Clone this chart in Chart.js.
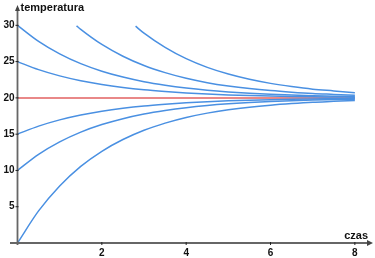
<!DOCTYPE html>
<html>
<head>
<meta charset="utf-8">
<script src="https://cdn.jsdelivr.net/npm/chart.js@4/dist/chart.umd.min.js"></script>
<style>
  html, body { margin: 0; padding: 0; background: #fff; }
  #wrap { width: 375px; height: 258px; }
</style>
</head>
<body>
<div id="wrap"><canvas id="myChart" width="375" height="258"></canvas></div>
<script>
// time samples (x axis)
const times = [0, 0.5, 1, 1.5, 2, 2.5, 3, 3.5, 4, 4.5, 5, 5.5, 6, 6.5, 7, 7.5, 8];

// temperature curves, one per starting temperature
const from0  = [0, 4.42, 7.86, 10.56, 12.64, 14.26, 15.54, 16.52, 17.30, 17.90, 18.36, 18.72, 19.00, 19.22, 19.40, 19.52, 19.64];
const from10 = [10, 12.21, 13.93, 15.28, 16.32, 17.13, 17.77, 18.26, 18.65, 18.95, 19.18, 19.36, 19.50, 19.61, 19.70, 19.76, 19.82];
const from15 = [15, 16.11, 16.97, 17.64, 18.16, 18.57, 18.89, 19.13, 19.33, 19.48, 19.59, 19.68, 19.75, 19.81, 19.85, 19.88, 19.91];
const from25 = [25, 23.89, 23.03, 22.36, 21.84, 21.43, 21.11, 20.87, 20.67, 20.52, 20.41, 20.32, 20.25, 20.19, 20.15, 20.12, 20.09];
const from30 = [30, 27.79, 26.07, 24.72, 23.68, 22.87, 22.23, 21.74, 21.35, 21.05, 20.82, 20.64, 20.50, 20.39, 20.30, 20.24, 20.18];

// curves that come in from above the top of the plot
const times40 = [1.4, 1.5, 2, 2.5, 3, 3.5, 4, 4.5, 5, 5.5, 6, 6.5, 7, 7.5, 8];
const from40  = [29.93, 29.44, 27.36, 25.74, 24.46, 23.48, 22.70, 22.10, 21.64, 21.28, 21.00, 20.78, 20.60, 20.48, 20.36];
const times60 = [2.8, 3, 3.5, 4, 4.5, 5, 5.5, 6, 6.5, 7, 7.5, 8];
const from60  = [29.88, 28.92, 26.96, 25.40, 24.20, 23.28, 22.56, 22.00, 21.56, 21.20, 20.96, 20.72];

// ambient temperature
const ambientTimes = [0, 8];
const ambient = [20, 20];

// tick labels
const xTicks = [2, 4, 6, 8];
const yTicks = [5, 10, 15, 20, 25, 30];

const blue = 'rgb(74, 144, 226)';
const red = 'rgb(226, 96, 96)';

function pts(xs, ys) {
    return xs.map((x, i) => ({ x: x, y: ys[i] }));
}

function curve(xs, ys, color) {
    return {
        data: pts(xs, ys),
        borderColor: color,
        borderWidth: 1.5,
        pointRadius: 0,
        fill: false,
        cubicInterpolationMode: 'monotone'
    };
}

// draw axes with arrows, tick marks and labels
const axesPlugin = {
    id: 'axes',
    afterDatasetsDraw(chart) {
        const ctx = chart.ctx;
        const xs = chart.scales.x, ys = chart.scales.y;
        const x0 = xs.getPixelForValue(0), y0 = ys.getPixelForValue(0);
        const right = chart.chartArea.right, top = chart.chartArea.top;
        ctx.save();
        ctx.strokeStyle = '#666';
        ctx.fillStyle = '#444';
        ctx.lineWidth = 1.8;
        ctx.beginPath();
        ctx.moveTo(10, y0); ctx.lineTo(right - 3, y0);
        ctx.moveTo(x0, y0 + 2); ctx.lineTo(x0, top + 3);
        ctx.stroke();
        // arrow heads
        ctx.beginPath();
        ctx.moveTo(right, y0); ctx.lineTo(right - 6, y0 - 3); ctx.lineTo(right - 6, y0 + 3);
        ctx.closePath(); ctx.fill();
        ctx.beginPath();
        ctx.moveTo(x0, top); ctx.lineTo(x0 - 2.5, top + 6); ctx.lineTo(x0 + 2.5, top + 6);
        ctx.closePath(); ctx.fill();

        ctx.strokeStyle = '#222';
        ctx.lineWidth = 1;
        ctx.fillStyle = '#111';
        ctx.font = 'bold 10px "Liberation Sans", Arial, sans-serif';
        ctx.textAlign = 'right';
        ctx.textBaseline = 'middle';
        yTicks.forEach(v => {
            const p = ys.getPixelForValue(v);
            ctx.beginPath(); ctx.moveTo(x0 - 2, p); ctx.lineTo(x0 + 1, p); ctx.stroke();
            ctx.fillText(String(v), x0 - 3, p);
        });
        ctx.textAlign = 'center';
        ctx.textBaseline = 'top';
        xTicks.forEach(v => {
            const p = xs.getPixelForValue(v);
            ctx.beginPath(); ctx.moveTo(p, y0 - 1); ctx.lineTo(p, y0 + 2); ctx.stroke();
            ctx.fillText(String(v), p, y0 + 5);
        });

        // axis titles
        ctx.font = 'bold 11px "Liberation Sans", Arial, sans-serif';
        ctx.textAlign = 'left';
        ctx.textBaseline = 'alphabetic';
        ctx.fillText('temperatura', x0 + 3, top + 6);
        ctx.textAlign = 'right';
        ctx.fillText('czas', right - 5, y0 - 4);
        ctx.restore();
    }
};

new Chart(document.getElementById('myChart').getContext('2d'), {
    type: 'line',
    data: {
        datasets: [
            curve(times, from0, blue),
            curve(times, from10, blue),
            curve(times, from15, blue),
            curve(times, from25, blue),
            curve(times, from30, blue),
            curve(times40, from40, blue),
            curve(times60, from60, blue),
            curve(ambientTimes, ambient, red)
        ]
    },
    options: {
        responsive: false,
        animation: false,
        layout: { padding: { left: 17.5, right: 2, top: 5, bottom: 15 } },
        plugins: { legend: { display: false }, tooltip: { enabled: false } },
        scales: {
            x: { type: 'linear', min: 0, max: 8.43, display: false },
            y: { type: 'linear', min: 0, max: 32.8, display: false }
        }
    },
    plugins: [axesPlugin]
});
</script>
</body>
</html>
